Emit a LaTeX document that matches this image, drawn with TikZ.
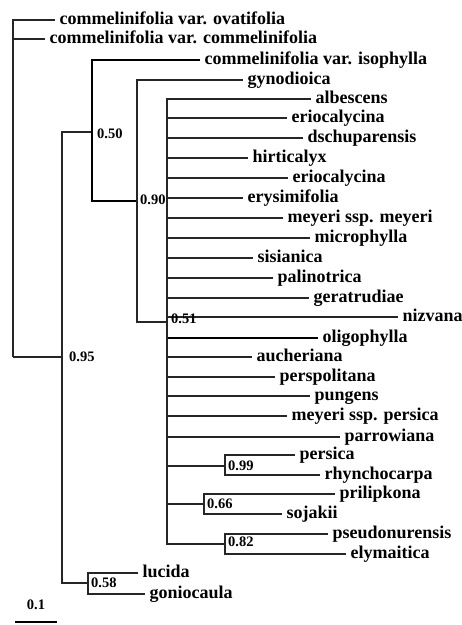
\documentclass[tikz,border=0pt]{standalone}
\usepackage{fontspec}
\setmainfont{Liberation Serif}
\usepackage{tikz}
\usetikzlibrary{arrows, positioning}

\begin{document}
\begin{tikzpicture}[x=1pt, y=-1pt,
				ast/.style={draw=black!85, line width=1.3pt},   %normaler Ast
				dickast/.style={draw=black, line width=2.1pt},
				blatt/.style={anchor=west, inner xsep=4.5pt, inner ysep=0pt, text height=10pt, text depth=1pt,
					font=\fontsize{18}{20}\selectfont\bfseries},
				stuetz/.style={anchor=west, inner xsep=3pt, inner ysep=0pt,
					font=\fontsize{14.5}{16}\selectfont\bfseries}]
				%Bildbereich
				\useasboundingbox (0,0) rectangle (462,625);
				% innere Knoten
				\coordinate (wurzel) at (13,357);
				\coordinate (k095) at (62,357);
				\coordinate (k050) at (92,132);
				\coordinate (k090) at (137,201);
				\coordinate (k051) at (167,322);
				\coordinate (k099) at (225,466);
				\coordinate (k066) at (204,504);
				\coordinate (k082) at (225,544);
				\coordinate (k058) at (88,583);
				% Blaetter oben
				\node[blatt] (ovat) at (55,20) {commelinifolia var. ovatifolia};
				\node[blatt] (comm) at (45,39) {commelinifolia var. commelinifolia};
				\node[blatt] (iso) at (200,60) {commelinifolia var. isophylla};
				\node[blatt] (gyno) at (243,80) {gynodioica};
				\draw[ast] (wurzel) |- (ovat.west);
				\draw[ast] (wurzel) |- (comm.west);
				\draw[ast] (wurzel) -- (k095);
				\draw[ast] (k095) |- (k050);
				\draw[ast] (k095) |- (k058);
				\draw[dickast] (k050) |- (iso.west);
				\draw[dickast] (k050) |- (k090);
				\draw[ast] (k090) |- (gyno.west);
				\draw[ast] (k090) |- (k051);
				% Polytomie
				\foreach \name/\yy/\xx/\txt in {albe/99/311/albescens, erio/118/287/eriocalycina,
					dsch/138/303/dschuparensis, hirt/158/248/hirticalyx, eriob/178/288/eriocalycina,
					erys/198/243/erysimifolia, meym/218/283/meyeri ssp. meyeri, micr/238/310/microphylla,
					sisi/258/253/sisianica, pali/278/273/palinotrica, gera/298/309/geratrudiae,
					nizv/317/398/nizvana, auch/357/252/aucheriana, persp/377/275/perspolitana,
					pung/396/310/pungens, meyp/416/287/meyeri ssp. persica, parr/437/340/parrowiana}
					{\node[blatt] (\name) at (\xx,\yy) {\txt};
					 \draw[ast] (k051) |- (\name.west);}
				\node[blatt] (olig) at (318,338) {oligophylla};
				\draw[dickast] (k051) |- (olig.west);
				\draw[ast] (k051) |- (k099);
				\draw[ast] (k051) |- (k066);
				\draw[ast] (k051) |- (k082);
				% Schwestergruppen
				\node[blatt] (persi) at (295,455) {persica};
				\node[blatt] (rhyn) at (320,475) {rhynchocarpa};
				\node[blatt] (pril) at (335,494) {prilipkona};
				\node[blatt] (soja) at (282,514) {sojakii};
				\node[blatt] (pseu) at (328,534) {pseudonurensis};
				\node[blatt] (elym) at (346,554) {elymaitica};
				\node[blatt] (luci) at (138,573) {lucida};
				\node[blatt] (goni) at (145,594) {goniocaula};
				\draw[ast] (k099) |- (persi.west);
				\draw[ast] (k099) |- (rhyn.west);
				\draw[ast] (k066) |- (pril.west);
				\draw[ast] (k066) |- (soja.west);
				\draw[ast] (k082) |- (pseu.west);
				\draw[ast] (k082) |- (elym.west);
				\draw[ast] (k058) |- (luci.west);
				\draw[ast] (k058) |- (goni.west);
				% Stuetzwerte
				\node[stuetz, xshift=2pt, yshift=-1.5pt] (s050) at (k050) {0.50};
				\node[stuetz, yshift=1.5pt] (s090) at (k090) {0.90};
				\node[stuetz, xshift=1pt, yshift=3pt] (s051) at (k051) {0.51};
				\node[stuetz, xshift=4pt] (s095) at (k095) {0.95};
				\node[stuetz] (s099) at (k099) {0.99};
				\node[stuetz] (s066) at (k066) {0.66};
				\node[stuetz, yshift=2pt] (s082) at (k082) {0.82};
				\node[stuetz] (s058) at (k058) {0.58};
				% Massstab
				\coordinate (mass1) at (15,622);
				\coordinate (mass2) at (57,622);
				\draw[dickast, line width=2.5pt] (mass1) -- node[stuetz, anchor=south, inner sep=0pt, yshift=11pt] (masstext) {0.1} (mass2);
			\end{tikzpicture}
\end{document}
